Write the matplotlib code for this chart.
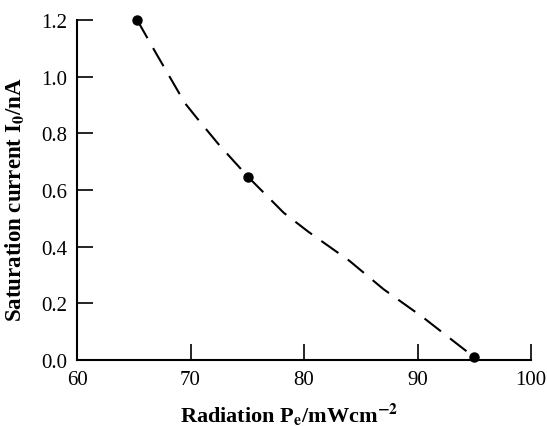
import matplotlib
matplotlib.use("Agg")
import matplotlib.pyplot as plt

# measured points
radiation = [65.3, 75.1, 95.0]
current = [1.20, 0.645, 0.01]

# dashed guide curve
curve_x = [65.3, 67.0, 69.5, 70.5, 72.5, 75.1, 78.2, 80.4, 84.0, 87.0, 90.5, 93.7, 95.0]
curve_y = [1.20, 1.08, 0.907, 0.857, 0.76, 0.645, 0.52, 0.452, 0.35, 0.25, 0.15, 0.05, 0.01]

xticks = [60, 70, 80, 90, 100]
yticks = [0.0, 0.2, 0.4, 0.6, 0.8, 1.0, 1.2]

plt.rcParams["font.family"] = ["Liberation Serif", "DejaVu Serif"]
plt.rcParams["mathtext.fontset"] = "stix"

fig = plt.figure(figsize=(5.47, 4.27), dpi=100)
ax = fig.add_axes([0.1408, 0.1546, 0.83, 0.7962])

ax.plot(curve_x, curve_y, color="black", lw=1.5, dashes=(10, 5.5))
ax.plot(radiation, current, "o", color="black", ms=6.5, clip_on=False, zorder=5)

ax.set_xlim(60, 100)
ax.set_ylim(0, 1.2)
ax.set_xticks(xticks)
ax.set_yticks(yticks)
ax.set_xticklabels([str(t) for t in xticks])
ax.set_yticklabels([f"{t:.1f}" for t in yticks])

for s in ["top", "right"]:
    ax.spines[s].set_visible(False)
for s in ["left", "bottom"]:
    ax.spines[s].set_linewidth(1.5)

ax.tick_params(direction="in", length=11.5, width=1.2, labelsize=15)
ax.tick_params(axis="x", pad=7)
ax.tick_params(axis="y", pad=7)

ax.set_xlabel(r"Radiation P$_\mathbf{e}$/mWcm$^{\mathbf{-2}}$", fontsize=16,
              fontweight="bold")
ax.set_ylabel(r"Saturation current I$_\mathbf{0}$/nA", fontsize=16.5,
              fontweight="bold")
ax.xaxis.set_label_coords(0.467, -0.12)
ax.yaxis.set_label_coords(-0.112, 0.474)

fig.savefig("out.png", dpi=100)
